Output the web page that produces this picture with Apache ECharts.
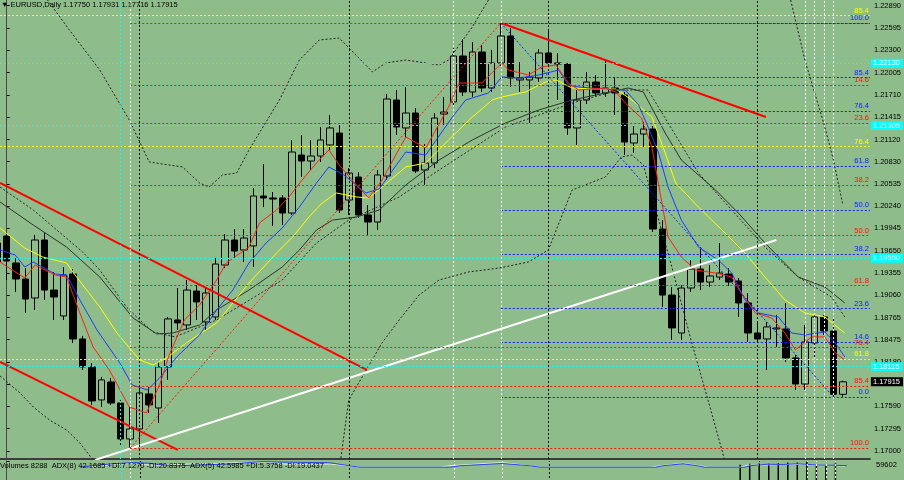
<!DOCTYPE html>
<html><head><meta charset="utf-8">
<script src="https://cdn.jsdelivr.net/npm/echarts@6/dist/echarts.min.js"></script>
<style>html,body{margin:0;padding:0;background:#8fbc8b}#c{width:904px;height:480px}</style>
</head><body><div id="c"></div>
<script>
// ---------- data ----------
const priceTicks = [1.17000,1.17295,1.17590,1.17885,1.18180,1.18475,1.18765,1.19060,1.19355,1.19650,1.19945,1.20240,1.20535,1.20830,1.21120,1.21415,1.21710,1.22005,1.22300,1.22595,1.22890];
const volumeTicks = [59602];
const firstDay = -1;
const opens = [1.19751,1.19844,1.19487,1.19275,1.19024,1.19791,1.19129,1.18786,1.19341,1.18482,1.18112,1.17675,1.17913,1.17635,1.17159,1.17291,1.17755,1.17569,1.18112,1.18733,1.18667,1.19116,1.18707,1.18773,1.19460,1.19791,1.19659,1.19712,1.20373,1.20347,1.20347,1.20148,1.20915,1.20836,1.20902,1.21048,1.21206,1.20320,1.20624,1.20122,1.20029,1.20638,1.21643,1.21273,1.21471,1.20717,1.20810,1.21458,1.21617,1.22225,1.21749,1.22278,1.21802,1.22133,1.22490,1.21908,1.21908,1.21934,1.22265,1.22133,1.22119,1.21273,1.21643,1.21881,1.21736,1.21802,1.21709,1.21074,1.21193,1.21259,1.19936,1.19063,1.18561,1.19156,1.19407,1.19235,1.19301,1.19341,1.19249,1.18958,1.18561,1.18482,1.18614,1.18614,1.18231,1.17886,1.18429,1.18773,1.18588,1.17750];
const closes = [1.19500,1.19513,1.19275,1.19010,1.19791,1.19129,1.19037,1.19328,1.18482,1.18112,1.17662,1.17940,1.17635,1.17159,1.17291,1.17768,1.17609,1.18112,1.18747,1.18694,1.19129,1.18972,1.19090,1.19473,1.19791,1.19645,1.19817,1.20373,1.20347,1.20333,1.20148,1.20955,1.20836,1.20902,1.21114,1.21273,1.20188,1.20677,1.20122,1.20029,1.20651,1.21656,1.21286,1.21471,1.20704,1.20810,1.21405,1.21484,1.22225,1.21749,1.22278,1.21802,1.22133,1.22490,1.21934,1.21934,1.21947,1.22265,1.22133,1.22119,1.21273,1.21643,1.21881,1.21736,1.21802,1.21736,1.21087,1.21193,1.21259,1.19936,1.19063,1.18628,1.19156,1.19407,1.19235,1.19315,1.19354,1.19235,1.18958,1.18561,1.18482,1.18641,1.18628,1.18231,1.17886,1.18442,1.18773,1.18588,1.17750,1.17915];
const highs = [1.19857,1.19897,1.19553,1.19420,1.19857,1.19883,1.19368,1.19434,1.19407,1.18522,1.18165,1.17979,1.17966,1.17675,1.17582,1.17834,1.17847,1.18178,1.18773,1.19156,1.19262,1.19196,1.19156,1.19553,1.19870,1.19936,1.19936,1.20479,1.20796,1.20426,1.20386,1.21114,1.21180,1.21114,1.21286,1.21445,1.21312,1.20743,1.20691,1.20254,1.20717,1.21723,1.21775,1.21815,1.21537,1.21061,1.21471,1.21683,1.22331,1.22450,1.22410,1.22371,1.22305,1.22662,1.22596,1.22146,1.22014,1.22318,1.22569,1.22265,1.22133,1.21775,1.22014,1.21974,1.22172,1.21947,1.21749,1.21312,1.21352,1.21299,1.20055,1.19169,1.19196,1.19526,1.19698,1.19460,1.19751,1.19420,1.19288,1.19090,1.18694,1.18707,1.18800,1.18958,1.18270,1.18667,1.18826,1.18800,1.18747,1.17931];
const lows = [1.19301,1.19262,1.19103,1.18826,1.18866,1.18998,1.18733,1.18733,1.18429,1.18072,1.17609,1.17582,1.17609,1.17080,1.17040,1.17060,1.17503,1.17371,1.17940,1.18601,1.18601,1.18733,1.18601,1.18733,1.19420,1.19553,1.19500,1.19434,1.20227,1.19976,1.19989,1.20122,1.20624,1.20717,1.20823,1.20982,1.20148,1.20122,1.20082,1.19857,1.19923,1.20585,1.21180,1.21154,1.20677,1.20519,1.20743,1.21312,1.21577,1.21696,1.21683,1.21749,1.21749,1.22093,1.21815,1.21749,1.21339,1.21881,1.22093,1.21643,1.21180,1.21048,1.21590,1.21696,1.21683,1.21445,1.20915,1.20942,1.21021,1.19897,1.18905,1.18469,1.18469,1.19103,1.19129,1.19169,1.19262,1.19182,1.18773,1.18442,1.18442,1.18072,1.18376,1.18178,1.17807,1.17807,1.18244,1.18535,1.17715,1.17716];

// moving averages / bands: [day, price]
const maRed = [[-0.7,1.19500],[1.9,1.19288],[3.0,1.19460],[5.1,1.19328],[6.3,1.19301],[7.7,1.18826],[9.1,1.18376],[10.8,1.18072],[12.9,1.17582],[14.7,1.17503],[16.1,1.17874],[17.1,1.18270],[18.7,1.18733],[20.3,1.18932],[22.1,1.19262],[23.1,1.19487],[25.5,1.19698],[26.6,1.20016],[28.4,1.20188],[29.7,1.20360],[31.1,1.20585],[32.6,1.20810],[33.9,1.20982],[35.0,1.20783],[36.8,1.20519],[38.1,1.20347],[39.5,1.20585],[42.0,1.21154],[44.1,1.21008],[46.5,1.21550],[47.6,1.21868],[50.0,1.21868],[52.1,1.22133],[52.8,1.22040],[54.9,1.21974],[56.3,1.22080],[57.8,1.22106],[59.1,1.21868],[60.2,1.21775],[63.0,1.21802],[64.1,1.21749],[65.1,1.21603],[66.8,1.21405],[67.9,1.21021],[68.9,1.20320],[69.6,1.19831],[71.0,1.19566],[72.5,1.19394],[74.6,1.19354],[76.3,1.19301],[77.3,1.19090],[78.8,1.18826],[80.5,1.18760],[81.9,1.18561],[83.0,1.18337],[84.7,1.18509],[86.1,1.18509],[87.2,1.18297],[88.2,1.18204]];
const maBlue = [[-0.7,1.19659],[0.9,1.19592],[1.9,1.19434],[2.8,1.19500],[5.1,1.19341],[6.3,1.19328],[7.7,1.18998],[9.5,1.18601],[11.9,1.18165],[13.2,1.17874],[14.8,1.17807],[16.1,1.17966],[17.9,1.18244],[20.3,1.18535],[22.1,1.18866],[23.8,1.19129],[25.5,1.19487],[27.3,1.19751],[29.0,1.19950],[30.8,1.20227],[32.6,1.20545],[33.9,1.20757],[35.5,1.20651],[37.8,1.20413],[39.2,1.20466],[42.0,1.20955],[44.1,1.20915],[46.9,1.21418],[48.3,1.21643],[50.7,1.21736],[52.1,1.21947],[53.9,1.21934],[56.0,1.21974],[58.1,1.22040],[59.1,1.21842],[60.2,1.21815],[63.0,1.21789],[65.1,1.21775],[66.5,1.21577],[67.5,1.21286],[68.6,1.20942],[69.6,1.20492],[71.0,1.20055],[72.8,1.19698],[74.9,1.19526],[76.3,1.19354],[77.7,1.18998],[79.1,1.18826],[81.2,1.18773],[82.6,1.18561],[84.0,1.18535],[86.1,1.18575],[87.2,1.18429],[88.2,1.18244]];
const maYellow = [[-0.7,1.19950],[1.9,1.19685],[3.8,1.19566],[6.3,1.19487],[7.2,1.19328],[9.8,1.18905],[11.6,1.18561],[14.0,1.18204],[15.4,1.18138],[16.8,1.18231],[18.9,1.18429],[22.1,1.18694],[23.8,1.18958],[25.5,1.19222],[28.4,1.19619],[30.1,1.19831],[31.8,1.20095],[33.2,1.20280],[34.7,1.20413],[36.8,1.20360],[38.1,1.20347],[39.5,1.20492],[42.0,1.20757],[44.1,1.20810],[46.5,1.21114],[49.0,1.21418],[51.1,1.21643],[52.1,1.21683],[54.6,1.21749],[56.7,1.21881],[57.8,1.21908],[59.5,1.21802],[61.6,1.21789],[64.1,1.21789],[65.8,1.21643],[67.9,1.21418],[69.3,1.20942],[70.4,1.20545],[72.8,1.20227],[75.6,1.19883],[77.7,1.19619],[79.8,1.19301],[81.9,1.18998],[84.0,1.18826],[86.1,1.18773],[88.2,1.18561]];
const maBlack = [[-0.7,1.20294],[2.8,1.19989],[6.3,1.19698],[9.8,1.19301],[13.3,1.18760],[15.8,1.18548],[17.5,1.18561],[20.3,1.18667],[22.1,1.18866],[25.5,1.19129],[29.0,1.19434],[30.8,1.19659],[32.6,1.19923],[34.3,1.20055],[36.8,1.20095],[39.2,1.20188],[42.0,1.20519],[45.5,1.20849],[49.0,1.21114],[52.5,1.21339],[56.0,1.21511],[59.5,1.21643],[63.0,1.21736],[65.4,1.21802],[67.0,1.21749],[69.3,1.21206],[71.0,1.20849],[74.6,1.20452],[77.0,1.20148],[79.8,1.19751],[83.3,1.19301],[86.1,1.19169],[88.2,1.18958]];
const maDotted = [[-0.7,1.20492],[2.8,1.20188],[8.0,1.19632],[9.8,1.19394],[12.6,1.18905],[14.0,1.18733],[15.4,1.18575],[17.7,1.18509],[22.1,1.18733],[29.0,1.19262],[32.6,1.19751],[36.0,1.20055],[41.3,1.20360],[45.5,1.20717],[52.5,1.21286],[59.5,1.21603],[64.4,1.21775],[67.5,1.21775],[72.8,1.20677],[76.3,1.20188],[79.8,1.19698],[83.3,1.19301],[86.8,1.19037],[88.2,1.18773]];
const bandUpper = [[3.5,1.23098],[4.3,1.22966],[6.6,1.22569],[9.8,1.22040],[12.9,1.21379],[15.0,1.20823],[18.5,1.20757],[20.3,1.20545],[21.3,1.20492],[22.7,1.20651],[24.2,1.20677],[25.5,1.20982],[28.7,1.21643],[30.8,1.22172],[32.9,1.22437],[35.0,1.22463],[38.5,1.22014],[39.9,1.22133],[42.0,1.22172],[45.5,1.22106],[46.5,1.22172],[49.0,1.22609],[50.7,1.22966],[51.5,1.23098],'-',[81.8,1.23098],[82.5,1.22966],[84.0,1.22172],[86.1,1.21286],[87.0,1.20849],[88.0,1.20254]];
const bandLower = [[-0.7,1.17993],[1.4,1.17768],[2.8,1.17582],[4.5,1.17410],[6.3,1.17278],[7.7,1.17106],[9.5,1.16815],'-',[35.0,1.16749],[36.0,1.17675],[39.5,1.18429],[41.3,1.18733],[43.4,1.19063],[45.5,1.19262],[48.6,1.19368],[51.8,1.19420],[54.9,1.19500],[57.0,1.19659],[59.5,1.20452],[63.0,1.20624],[64.7,1.20889],[65.8,1.20915],[67.0,1.20783],[70.0,1.19434],[72.1,1.18429],[74.1,1.17543],[75.7,1.16815]];

// trend lines [day, price]
const trendRedUpper = [[-0.7,1.20545],[37.9,1.18072]];
const trendRedLower = [[-0.7,1.18178],[18.0,1.17014]];
const trendRedTop = [[52,1.22662],[79.9,1.21418]];
const trendWhite = [[9.3,1.16881],[81.0,1.19791]];
const fibRedDiag = [[13,1.17040],[52,1.22662]];
const fibBlueDiag = [[52,1.22662],[87,1.17716]];

// fibonacci levels
const fibRedStart = 13;
const fibRedLabels = ['', '14.6','23.6','38.2','50.0','61.8','76.4','85.4','100.0'];
const fibRedPrices = [1.22662,1.21841,1.21335,1.20514,1.19851,1.19188,1.18367,1.17861,1.17040];
const fibBlueStart = 52;
const fibBlueLabels = ['100.0','85.4','76.4','61.8','50.0','38.2','23.6','14.6','0.0'];
const fibBluePrices = [1.22662,1.21940,1.21495,1.20773,1.20189,1.19605,1.18883,1.18438,1.17716];
const fibYellowLabels = ['85.4','76.4','61.8'];
const fibYellowPrices = [1.22758,1.21025,1.18218];
const cyanLevels = [1.22130,1.21305,1.19550,1.18115];
const lastPrice = 1.17915;

// vertical markers (day index)
const periodSeparators = [14,36,57,79];
const whiteMarks = [13,47,52,84,85,86,87];
const cyanMarks = [12];

// sub window
const volumes = [[77,50662],[78,53046],[79,53642],[80,53046],[81,54238],[82,56026],[83,56026],[84,58410],[85,52450],[86,49470],[87,54238],[88,8288]];
const adxBlue = [[7.7,76],[10.8,88],[13.3,94],[15.0,91],[16.8,83],[17.9,81],[20.3,84],[23.8,89],[26.9,98],[28.4,96],[33.9,93],[36.0,81],[37.1,75],[46.5,75],[47.6,81],[52.0,90],[54.9,81],[56.0,75],[68.1,75],[68.9,81],[71.0,89],[72.5,81],[73.3,75],[77.5,75],[78.0,81],[79.8,87],[81.5,86],[83.0,89],[85.1,84],[87.8,82],[88.2,81]];
const adxWhite = [[8.7,75],[9.5,81],[13.3,91],[15.0,83],[17.5,86],[23.1,92],[27.3,96],[29.0,88],[30.8,86],[33.9,88],[36.0,81],[37.1,75],[45.5,75],[46.5,81],[52.0,94],[54.9,81],[56.0,75],[67.5,75],[68.6,81],[71.0,91],[72.8,81],[73.8,75],[77.0,75],[77.8,83],[80.1,85],[83.3,87],[85.4,83],[88.0,80]];

const titleText = '\u25BC EURUSD,Daily 1.17750 1.17931 1.17716 1.17915';
const subText = 'Volumes 8288  ADX(8) 42.1685 +DI:7.1270 -DI:20.8375  ADX(5) 42.5985 +DI:5.3758 -DI:19.0437';

// ---------- chart ----------
const BG = '#8fbc8b';
const FONT = '"Liberation Sans", Arial, sans-serif';
const FS = 7.5;
const RED = '#ff1400', BLUE = '#0a1eff', YEL = '#ffff00', CYAN = '#00ffff';
const xMin = -0.7034, xMax = 90.84, yMin = 1.16894, yMax = 1.22966;
const candles = opens.map((o, k) => [firstDay + k, o, closes[k], lows[k], highs[k]]);

function hLabel(color, text) {
  return {show: !!text, formatter: text, position: 'insideEndTop', color: color, fontSize: FS, fontFamily: FONT, distance: [1, 1]};
}
const levelLines = [];
fibYellowPrices.forEach((p, k) => levelLines.push({yAxis: p, lineStyle: {color: YEL, type: [2, 2], width: 1}, label: hLabel(YEL, fibYellowLabels[k])}));
cyanLevels.forEach(p => levelLines.push({yAxis: p, lineStyle: {color: CYAN, type: [2, 2], width: 1},
  label: {show: true, position: 'end', distance: 1, formatter: p.toFixed(5), color: '#ffffff', backgroundColor: CYAN, padding: [1, 3, 0, 2], fontSize: FS, fontFamily: FONT}}));
fibRedPrices.forEach((p, k) => levelLines.push([{coord: [fibRedStart, p], lineStyle: {color: RED, type: [2, 2], width: 1}, label: hLabel(RED, fibRedLabels[k])}, {coord: [xMax, p]}]));
fibBluePrices.forEach((p, k) => levelLines.push([{coord: [fibBlueStart, p], lineStyle: {color: BLUE, type: [2, 2], width: 1}, label: hLabel(BLUE, fibBlueLabels[k])}, {coord: [xMax, p]}]));
periodSeparators.forEach(d => levelLines.push({xAxis: d, lineStyle: {color: '#101010', type: [2, 2], width: 1}, label: {show: false}}));
whiteMarks.forEach(d => levelLines.push({xAxis: d, lineStyle: {color: '#f4f8f4', type: [2, 2], width: 1}, label: {show: false}}));
cyanMarks.forEach(d => levelLines.push({xAxis: d, lineStyle: {color: CYAN, type: [2, 2], width: 1}, label: {show: false}}));
levelLines.push([{coord: fibRedDiag[0], lineStyle: {color: RED, type: [2, 2], width: 1}, label: {show: false}}, {coord: fibRedDiag[1]}]);
levelLines.push([{coord: fibBlueDiag[0], lineStyle: {color: BLUE, type: [2, 2], width: 1}, label: {show: false}}, {coord: fibBlueDiag[1]}]);
levelLines.push({yAxis: lastPrice, lineStyle: {color: 'rgba(0,0,0,0)', width: 0.01},
  label: {show: true, position: 'end', distance: 1, formatter: lastPrice.toFixed(5), color: '#ffffff', backgroundColor: '#000000', padding: [1, 3, 0, 2], fontSize: FS, fontFamily: FONT, opacity: 1}});

const subMarks = [];
periodSeparators.forEach(d => subMarks.push({xAxis: d, lineStyle: {color: '#101010', type: [2, 2], width: 1}}));
whiteMarks.forEach(d => subMarks.push({xAxis: d, lineStyle: {color: '#f4f8f4', type: [2, 2], width: 1}}));
cyanMarks.forEach(d => subMarks.push({xAxis: d, lineStyle: {color: CYAN, type: [2, 2], width: 1}}));

function lineSeries(data, color, width, type, z) {
  return {type: 'line', data: data, xAxisIndex: 0, yAxisIndex: 0, showSymbol: false, symbol: 'none', silent: true, z: z,
    lineStyle: {color: color, width: width, type: type || 'solid'}, connectNulls: false};
}

const option = {
  animation: false,
  backgroundColor: BG,
  title: [
    {text: titleText, left: 1, top: 1, padding: 0, textStyle: {fontSize: FS, fontWeight: 'normal', color: '#000', fontFamily: FONT}},
    {text: subText, left: 0, top: 462, padding: 0, textStyle: {fontSize: 7.5, fontWeight: 'normal', color: '#000', fontFamily: FONT}}
  ],
  grid: [
    {left: 0, right: 32, top: 0, height: 459},
    {left: 0, right: 32, top: 461, height: 100}
  ],
  xAxis: [
    {type: 'value', gridIndex: 0, min: xMin, max: xMax, axisLine: {show: true, onZero: false, lineStyle: {color: '#3c3c3c', width: 2}}, axisTick: {show: false}, axisLabel: {show: false}, splitLine: {show: false}},
    {type: 'value', gridIndex: 1, min: xMin, max: xMax, show: false, splitLine: {show: false}}
  ],
  yAxis: [
    {type: 'value', gridIndex: 0, position: 'right', min: yMin, max: yMax, scale: true,
      axisLine: {show: true, lineStyle: {color: '#4a4a4a', width: 1}},
      axisTick: {show: true, customValues: priceTicks, length: 3, lineStyle: {color: '#000'}},
      axisLabel: {show: true, customValues: priceTicks, formatter: v => v.toFixed(5), color: '#000', fontSize: FS, fontFamily: FONT, margin: 4},
      splitLine: {show: false}},
    {type: 'value', gridIndex: 1, position: 'right', min: 0, max: 59602,
      axisLine: {show: true, lineStyle: {color: '#4a4a4a', width: 1}},
      axisTick: {show: true, customValues: volumeTicks, length: 3, lineStyle: {color: '#000'}},
      axisLabel: {show: true, customValues: volumeTicks, formatter: v => String(Math.round(v)), color: '#000', fontSize: FS, fontFamily: FONT, margin: 4, verticalAlign: 'top'},
      splitLine: {show: false}},
    {type: 'value', gridIndex: 1, min: 0, max: 100, show: false, splitLine: {show: false}}
  ],
  series: [
    {type: 'line', name: 'levels', data: [], xAxisIndex: 0, yAxisIndex: 0, z: 1, clip: false, silent: true,
      markLine: {silent: true, symbol: 'none', animation: false, precision: 6, data: levelLines}},
    {type: 'candlestick', data: candles, xAxisIndex: 0, yAxisIndex: 0, encode: {x: 0, y: [1, 2, 3, 4]}, barWidth: 7, z: 2, silent: true,
      itemStyle: {color: BG, color0: '#000000', borderColor: '#000000', borderColor0: '#000000', borderWidth: 1}},
    lineSeries(bandUpper, '#1e1e1e', 1, [2, 2], 3),
    lineSeries(bandLower, '#1e1e1e', 1, [2, 2], 3),
    lineSeries(maDotted, '#262626', 1, [2, 2], 3),
    lineSeries(maBlack, '#2c342c', 1, 'solid', 3),
    lineSeries(maYellow, '#ffff00', 1, 'solid', 3),
    lineSeries(maBlue, '#1e3cff', 1, 'solid', 3),
    lineSeries(maRed, '#ff2010', 1, 'solid', 3),
    lineSeries(trendRedUpper, '#ff0000', 2, 'solid', 4),
    lineSeries(trendRedLower, '#ff0000', 2, 'solid', 4),
    lineSeries(trendRedTop, '#ff0000', 2, 'solid', 4),
    lineSeries(trendWhite, '#ffffff', 2, 'solid', 4),
    {type: 'bar', data: volumes, xAxisIndex: 1, yAxisIndex: 1, barWidth: 1.5, itemStyle: {color: '#000'}, silent: true, z: 2,
      markLine: {silent: true, symbol: 'none', animation: false, precision: 6, label: {show: false}, data: subMarks}},
    {type: 'line', data: adxWhite, xAxisIndex: 1, yAxisIndex: 2, showSymbol: false, silent: true, lineStyle: {color: '#e4ece4', width: 1}, z: 3},
    {type: 'line', data: adxBlue, xAxisIndex: 1, yAxisIndex: 2, showSymbol: false, silent: true, lineStyle: {color: '#2a44e8', width: 1}, z: 3}
  ]
};
const chart = echarts.init(document.getElementById('c'), null, {renderer: 'canvas'});
chart.setOption(option);
</script>
</body></html>
